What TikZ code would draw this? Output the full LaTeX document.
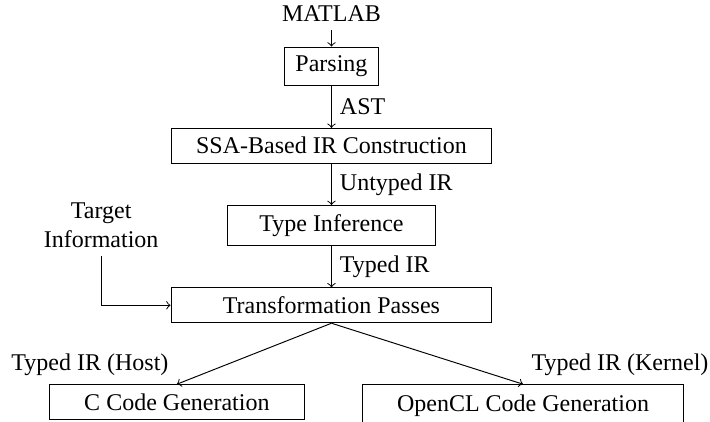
\documentclass[tikz,border=0pt]{standalone}
\usepackage{fontspec}
\setmainfont{Liberation Serif}
\usetikzlibrary{positioning}

\begin{document}
\begin{tikzpicture}[
    node distance=17.3pt and 25pt,
    block/.style={rectangle, draw, text centered, inner ysep=3.7pt},
    line/.style={draw, ->}
]
    % Frame of the picture
    \path[use as bounding box, clip] (-138.1pt,-147.7pt) rectangle (157.7pt,27.7pt);

    % Main chain
    \node (parse) [block, minimum width=38.75pt] {Parsing};
    \node (ssa) [block, below=of parse, minimum width=133.5pt] {SSA-Based IR Construction};
    \node (infer) [block, below=of ssa, minimum width=86.7pt] {Type Inference};
    \node (trans) [block, below=of infer, minimum width=133.7pt] {Transformation Passes};

    % Inputs
    \node (matlab) [above=6.7pt of parse] {MATLAB};
    \node (target) [left=of infer, align=center] {Target\\Information};

    % Code generators
    \node (cgen) [block, below=25.4pt of trans, xshift=-64.4pt, minimum width=106pt] {C Code Generation};
    \node (clgen) [block, below=25.4pt of trans, xshift=79.8pt, minimum width=134pt, minimum height=17.5pt] {OpenCL Code Generation};

    % Arrows
    \path [line] (matlab) -- (parse);
    \path [line] (parse) -- node[right] {AST} (ssa);
    \path [line] (ssa) -- node[right] {Untyped IR} (infer);
    \path [line] (infer) -- node[right] {Typed IR} (trans);
    \path [line] (target) |- (trans);
    \path [line] (trans.south) -- (cgen.north) node[above left] {Typed IR (Host)};
    \path [line] (trans.south) -- (clgen.north) node[above right] {Typed IR (Kernel)};

\end{tikzpicture}
\end{document}
